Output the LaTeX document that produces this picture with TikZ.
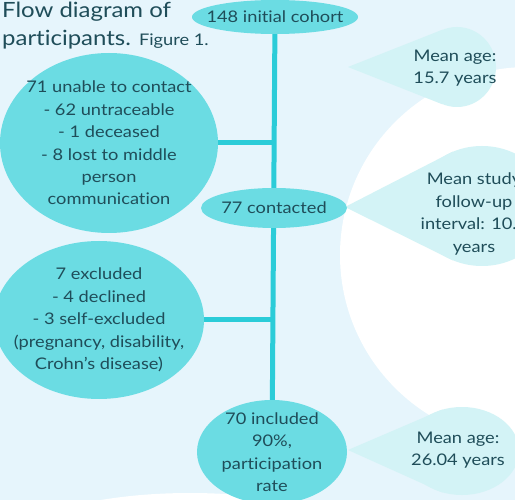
\documentclass[tikz,border=0pt]{standalone}
\usepackage{fontspec}
\setmainfont{Lato}[FakeStretch=1.14, Ligatures=NoCommon]
\usetikzlibrary{shapes.geometric,backgrounds}
\pgfdeclarelayer{canvas}
\pgfsetlayers{canvas,background,main}
\definecolor{paleblue}{HTML}{E6F5FC}
\definecolor{stagecyan}{HTML}{6BDCE3}
\definecolor{trunkcyan}{HTML}{2BCCD8}
\definecolor{notecyan}{HTML}{D3F3F6}
\definecolor{inkteal}{HTML}{1F4D59}
\tikzset{
	stage/.style={
		ellipse,
		fill=stagecyan,
		inner sep=0pt},
	stagetext/.style={
		text=inkteal,
		inner sep=0pt,
		font=\fontsize{16}{22.4}\selectfont,
		align=center},
	note/.style={
		ellipse,
		fill=notecyan,
		inner sep=0pt},
	notetail/.style={
		fill=notecyan},
	trunk/.style={
		draw=trunkcyan,
		line width=5pt}
}

\begin{document}
\begin{tikzpicture}[x=1pt, y=-1pt]
	\useasboundingbox (0,0) rectangle (515,500);
	\clip (0,0) rectangle (515,500);

	\begin{pgfonlayer}{canvas}
		\clip (0,0) rectangle (515,500);
		\fill[paleblue] (0,0) rectangle (515,500);
		\fill[white] (528,255) circle [radius=188];
		\fill[white] (190,560) ellipse [x radius=200, y radius=67];
	\end{pgfonlayer}

	% title
	\node[anchor=north west, inner sep=0pt, text=inkteal,
	      font=\fontsize{21}{28}\selectfont, align=left] (title) at (2,2)
	      {Flow diagram of\\participants. {\fontsize{16}{16}\selectfont Figure 1.}};

	% side notes
	\node[note, minimum width=78pt, minimum height=80pt] (agenote) at (457,67) {};
	\coordinate (agetip) at (348,67);
	\fill[notetail] (agetip) -- (agenote.112) -- (agenote.248) -- cycle;
	\node[stagetext] at (455,68) {Mean age:\\15.7 years};

	\node[note, minimum width=136pt, minimum height=120pt] (follownote) at (482,206) {};
	\coordinate (followtip) at (345,207);
	\fill[notetail] (followtip) -- (follownote.118) -- (follownote.242) -- cycle;
	\node[stagetext] at (474,214) {Mean study\\follow-up\\interval: 10.3\\years};

	\node[note, minimum width=114pt, minimum height=88pt] (finalnote) at (462,451) {};
	\coordinate (finaltip) at (348,450);
	\fill[notetail] (finaltip) -- (finalnote.115) -- (finalnote.245) -- cycle;
	\node[stagetext] at (458,450) {Mean age:\\26.04 years};

	% flow stages
	\node[stage, minimum width=166pt, minimum height=34pt] (cohort) at (275,17) {};
	\node[stage, minimum width=218pt, minimum height=180pt] (unable) at (109,143) {};
	\node[stage, minimum width=146pt, minimum height=40pt] (contacted) at (274,208) {};
	\node[stage, minimum width=210pt, minimum height=158pt] (excluded) at (99,320) {};
	\node[stage, minimum width=150pt, minimum height=104pt] (included) at (272,452) {};

	\node[stagetext] at (cohort) {148 initial cohort};
	\node[stagetext] at (unable) {71 unable to contact\\- 62 untraceable\\- 1 deceased\\- 8 lost to middle\\person\\communication};
	\node[stagetext] at (contacted) {77 contacted};
	\node[stagetext] at (excluded) {7 excluded\\- 4 declined\\- 3 self-excluded\\(pregnancy, disability,\\Crohn’s disease)};
	\node[stagetext] at (included) {70 included\\90\%,\\participation\\rate};

	\begin{pgfonlayer}{background}
		\draw[trunk] (cohort) -- (included);
		\draw[trunk] (unable.east) -- (unable.east -| cohort);
		\draw[trunk] (excluded.east) -- (excluded.east -| cohort);
	\end{pgfonlayer}
\end{tikzpicture}
\end{document}
